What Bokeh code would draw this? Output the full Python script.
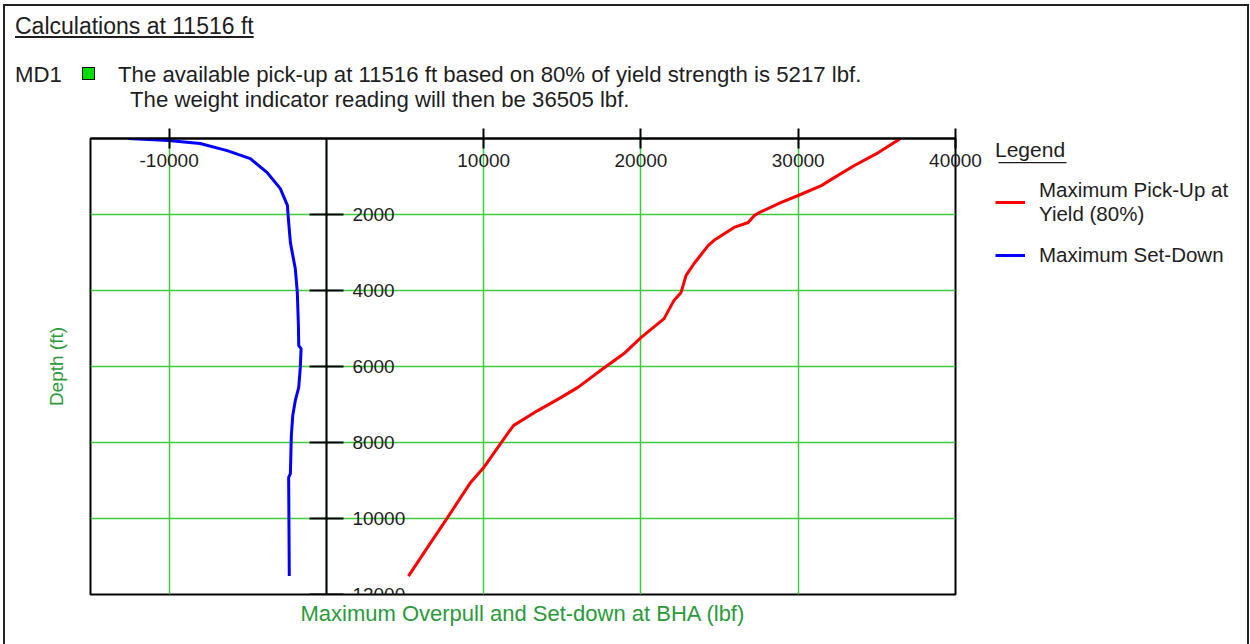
from bokeh.plotting import figure
from bokeh.layouts import column, row
from bokeh.models import (Range1d, LinearAxis, FixedTicker, Legend, LegendItem, Div,
                          NumeralTickFormatter, BoxAnnotation)
from bokeh.embed import file_html
from bokeh.resources import INLINE

# ---------------- texts ----------------
title_text = "Calculations at 11516 ft"
case_name = "MD1"
note_line1 = "The available pick-up at 11516 ft based on 80% of yield strength is 5217 lbf."
note_line2 = "The weight indicator reading will then be 36505 lbf."
x_label = "Maximum Overpull and Set-down at BHA (lbf)"
y_label = "Depth (ft)"
legend_title = "Legend"
series_names = ["Maximum Pick-Up at\nYield (80%)", "Maximum Set-Down"]
series_colors = ["#ff0000", "#0000ff"]

# ---------------- ticks ----------------
x_ticks = [-10000, 0, 10000, 20000, 30000, 40000]
y_ticks = [0, 2000, 4000, 6000, 8000, 10000, 12000]

# ---------------- data ----------------
pickup_depth = [0, 370, 710, 1030, 1240, 1500, 1680, 1950, 2030, 2210, 2340, 2680, 2820,
                3290, 3600, 4050, 4260, 4740, 5240, 5660, 6100, 6550, 6820, 7160, 7550,
                7760, 8660, 9050, 9970, 10760, 11516]
pickup_lbf = [36505, 35100, 33570, 32290, 31470, 30000, 28920, 27520, 27200, 26820, 25920,
              24650, 24270, 23380, 22870, 22550, 22100, 21470, 20000, 18920, 17450, 15990,
              14900, 13440, 11910, 11530, 10000, 9170, 7710, 6430, 5217]

setdown_depth = [0, 50, 130, 320, 530, 900, 1320, 1760, 2100, 2740, 3420, 4050, 4920,
                 5450, 5530, 6030, 6550, 6900, 7290, 7820, 8820, 8920, 11516]
setdown_lbf = [-12600, -10060, -8030, -6310, -4840, -3760, -2930, -2480, -2420, -2290,
               -1980, -1850, -1780, -1760, -1610, -1660, -1760, -1980, -2140, -2230,
               -2290, -2400, -2360]

FONT = "Liberation Sans"
TEXT = "#1e1e1e"
GRID_GREEN = "#3ccc3c"
LABEL_GREEN = "#2a9a3a"

# ---------------- header (HTML text) ----------------
header_html = f"""
<div style="position:relative;width:1242px;height:112px;font-family:'{FONT}',Arial,sans-serif;
            color:{TEXT};font-size:22.2px;line-height:26px;white-space:nowrap;">
  <span style="position:absolute;left:10px;top:7px;font-size:23px;text-decoration:underline;">{title_text}</span>
  <span style="position:absolute;left:10px;top:56px;">{case_name}</span>
  <span style="position:absolute;left:77px;top:61px;width:13px;height:13px;background:#00dd00;
               border:1px solid #111;"></span>
  <span style="position:absolute;left:113px;top:56px;">{note_line1}</span>
  <span style="position:absolute;left:125px;top:81px;">{note_line2}</span>
</div>
"""
header = Div(text=header_html, width=1242, height=112, margin=0)

# ---------------- chart ----------------
TOP_BORDER = 20
p = figure(frame_width=865, frame_height=456, output_backend="svg", toolbar_location=None,
           x_range=Range1d(-15000, 40000), y_range=Range1d(12000, 0),
           x_axis_location=None, y_axis_location=None,
           min_border_left=85, min_border_right=30, min_border_top=TOP_BORDER,
           min_border_bottom=50, margin=0)
p.background_fill_color = "white"
p.border_fill_color = "white"
p.outline_line_color = "black"
p.outline_line_width = 2

# grids
p.xgrid.ticker = FixedTicker(ticks=x_ticks)
p.ygrid.ticker = FixedTicker(ticks=y_ticks)
for g in p.grid:
    g.grid_line_color = GRID_GREEN
    g.grid_line_width = 1.5

# depth axis crossing at zero load, labels to its right
yaxis = LinearAxis(fixed_location=0, ticker=FixedTicker(ticks=[t for t in y_ticks if t != 0]),
                   formatter=NumeralTickFormatter(format="0"),
                   major_tick_in=17, major_tick_out=17, minor_tick_in=0, minor_tick_out=0,
                   axis_line_width=2, axis_line_color="black",
                   major_tick_line_width=2, major_tick_line_color="black",
                   major_label_standoff=9, major_label_text_font=FONT,
                   major_label_text_font_size="19px", major_label_text_color=TEXT)
p.add_layout(yaxis, "right")

# load axis along the top edge, labels drawn just under it
xaxis = LinearAxis(ticker=FixedTicker(ticks=[t for t in x_ticks if t != 0]),
                   formatter=NumeralTickFormatter(format="0"),
                   major_tick_in=10, major_tick_out=10, minor_tick_in=0, minor_tick_out=0,
                   axis_line_width=2, axis_line_color="black",
                   major_tick_line_width=2, major_tick_line_color="black",
                   major_label_standoff=-38, major_label_text_font=FONT,
                   major_label_text_font_size="19px", major_label_text_color=TEXT)
p.add_layout(xaxis, "above")

# axis titles
xtitle = LinearAxis(ticker=FixedTicker(ticks=[]), axis_line_color=None,
                    major_tick_out=0, major_tick_in=0, minor_tick_out=0, minor_tick_in=0,
                    axis_label=x_label, axis_label_standoff=6,
                    axis_label_text_font=FONT, axis_label_text_font_size="22px",
                    axis_label_text_font_style="normal", axis_label_text_color=LABEL_GREEN)
p.add_layout(xtitle, "below")
ytitle = LinearAxis(ticker=FixedTicker(ticks=[]), axis_line_color=None,
                    major_tick_out=0, major_tick_in=0, minor_tick_out=0, minor_tick_in=0,
                    axis_label=y_label, axis_label_standoff=24,
                    axis_label_text_font=FONT, axis_label_text_font_size="19px",
                    axis_label_text_font_style="normal", axis_label_text_color=LABEL_GREEN)
p.add_layout(ytitle, "left")

# curves
r_pick = p.line(pickup_lbf, pickup_depth, line_color=series_colors[0], line_width=3)
r_set = p.line(setdown_lbf, setdown_depth, line_color=series_colors[1], line_width=3)

# ---------------- legend panel ----------------
LW, LH = 262, 526
L_LEFT = 10
PAD = 6
q = figure(width=LW, height=LH, output_backend="svg", toolbar_location=None,
           x_range=Range1d(0, LW - L_LEFT), y_range=Range1d(LH - TOP_BORDER, 0),
           x_axis_location=None, y_axis_location=None,
           min_border_left=L_LEFT, min_border_top=TOP_BORDER, min_border_right=0,
           min_border_bottom=0, margin=0)
q.grid.visible = False
q.outline_line_color = None
q.background_fill_color = "white"
q.border_fill_color = "white"

# same series in the legend panel (they fall outside its ranges, only the keys show)
k_pick = q.line(pickup_lbf, pickup_depth, line_color=series_colors[0], line_width=3)
k_set = q.line(setdown_lbf, setdown_depth, line_color=series_colors[1], line_width=3)

legend = Legend(items=[LegendItem(label=series_names[0], renderers=[k_pick]),
                       LegendItem(label=series_names[1], renderers=[k_set])],
                location="top_left", title=legend_title,
                title_text_font=FONT, title_text_font_size="21px",
                title_text_font_style="normal", title_text_color=TEXT, title_standoff=16,
                label_text_font=FONT, label_text_font_size="20.5px", label_text_color=TEXT,
                glyph_width=30, glyph_height=24, label_standoff=14, spacing=17,
                padding=PAD, margin=0, border_line_color=None, background_fill_alpha=0)
q.add_layout(legend, "center")
# underline of the legend heading
q.add_layout(BoxAnnotation(left=PAD - 3, right=PAD + 65, top=PAD + 20, bottom=PAD + 21.5,
                           fill_color=TEXT, fill_alpha=1, line_color=None))

layout = column(header, row(p, q, spacing=0, margin=0), margin=(6, 3, 0, 5), spacing=0,
                styles={"box-shadow": "0 0 0 2px #222222"})

open("out.html", "w").write(file_html(layout, INLINE))
